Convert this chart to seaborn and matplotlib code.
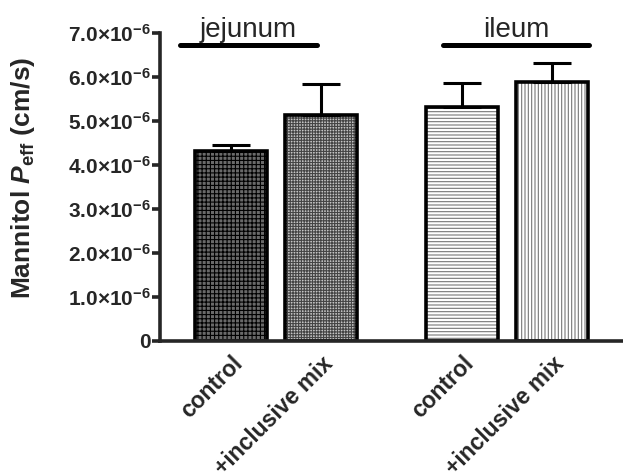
import seaborn as sns
import matplotlib.pyplot as plt
from matplotlib.patches import Rectangle
import pandas as pd

# Mannitol permeability, mean and SEM (cm/s)
segments = ['jejunum', 'jejunum', 'ileum', 'ileum']
treatments = ['control', '+inclusive mix', 'control', '+inclusive mix']
peff_mean = [4.32e-6, 5.14e-6, 5.32e-6, 5.89e-6]
peff_sem = [0.13e-6, 0.70e-6, 0.54e-6, 0.43e-6]
y_ticks = [0, 1e-6, 2e-6, 3e-6, 4e-6, 5e-6, 6e-6, 7e-6]
y_ticklabels = ['0'] + [f'{v}.0×10$^{{-6}}$' for v in range(1, 8)]

# layout: bar centres, with a wider gap between the two segments
bar_pos = [0, 1, 2.57, 3.57]
face_colors = ['#6a6a6a', '#c4c4c4', 'white', 'white']
hatches = ['++++', '++++++', '-----', '|||||']
hatch_colors = ['black', '#444444', '#777777', '#777777']

sns.set_style('ticks')
plt.rcParams['font.family'] = ['Liberation Sans', 'DejaVu Sans']
plt.rcParams['mathtext.fontset'] = 'custom'
plt.rcParams['mathtext.rm'] = 'Liberation Sans:bold'
plt.rcParams['mathtext.bf'] = 'Liberation Sans:bold'
plt.rcParams['mathtext.it'] = 'Liberation Sans:italic:bold'
plt.rcParams['hatch.linewidth'] = 0.8

df = pd.DataFrame({'pos': bar_pos, 'segment': segments,
                   'treatment': treatments, 'peff': peff_mean,
                   'sem': peff_sem})
df['bar'] = [f'{s} {t}' for s, t in zip(segments, treatments)]

fig = plt.figure(figsize=(6.23, 4.74), dpi=100)
ax = fig.add_axes([0.257, 0.2806, 0.743, 0.6494])
sns.barplot(data=df, x='pos', y='peff', hue='bar', palette=face_colors,
            native_scale=True, legend=False, errorbar=None, ax=ax)

# hatch in grey (hatch colour follows edge colour), then a black outline
for patch, h, hc in list(zip(ax.patches, hatches, hatch_colors)):
    patch.set_hatch(h)
    patch.set_edgecolor(hc)
    patch.set_linewidth(0)
    ax.add_patch(Rectangle(patch.get_xy(), patch.get_width(),
                           patch.get_height(), facecolor='none',
                           edgecolor='black', linewidth=2.6, zorder=2.5))

# upper error bars only
ax.errorbar(bar_pos, peff_mean, yerr=[[0] * len(peff_sem), peff_sem],
            fmt='none', ecolor='black', elinewidth=2.2, capsize=14,
            capthick=2.2, zorder=3)

# segment labels and lines over the groups
for seg, x0, x1 in [('jejunum', -0.57, 0.96), ('ileum', 2.36, 3.98)]:
    ax.plot([x0, x1], [6.73e-6, 6.73e-6], color='black', lw=3.6,
            solid_capstyle='round', clip_on=False)
    ax.text((x0 + x1) / 2, 6.78e-6, seg, ha='center', va='bottom',
            fontsize=20, clip_on=False)

ax.set_xlim(-0.79, 4.36)
ax.set_ylim(0, 7e-6)
ax.set_yticks(y_ticks)
ax.set_yticklabels(y_ticklabels, fontsize=15, fontweight='bold')
ax.set_xticks(bar_pos)
ax.set_xticklabels(treatments, rotation=45, ha='right',
                   rotation_mode='anchor', fontsize=16.5, fontweight='bold')
ax.set_xlabel('')
ax.set_ylabel('Mannitol $\\mathit{P}_{\\mathrm{eff}}$ (cm/s)',
              fontsize=19, fontweight='bold')
ax.yaxis.set_label_coords(-0.265, 0.53)
sns.despine(ax=ax)
for side in ['left', 'bottom']:
    ax.spines[side].set_linewidth(2.6)
ax.tick_params(axis='y', width=2.6, length=6, pad=1)
ax.tick_params(axis='x', length=0, pad=8)

fig.savefig('out.png', dpi=100)
